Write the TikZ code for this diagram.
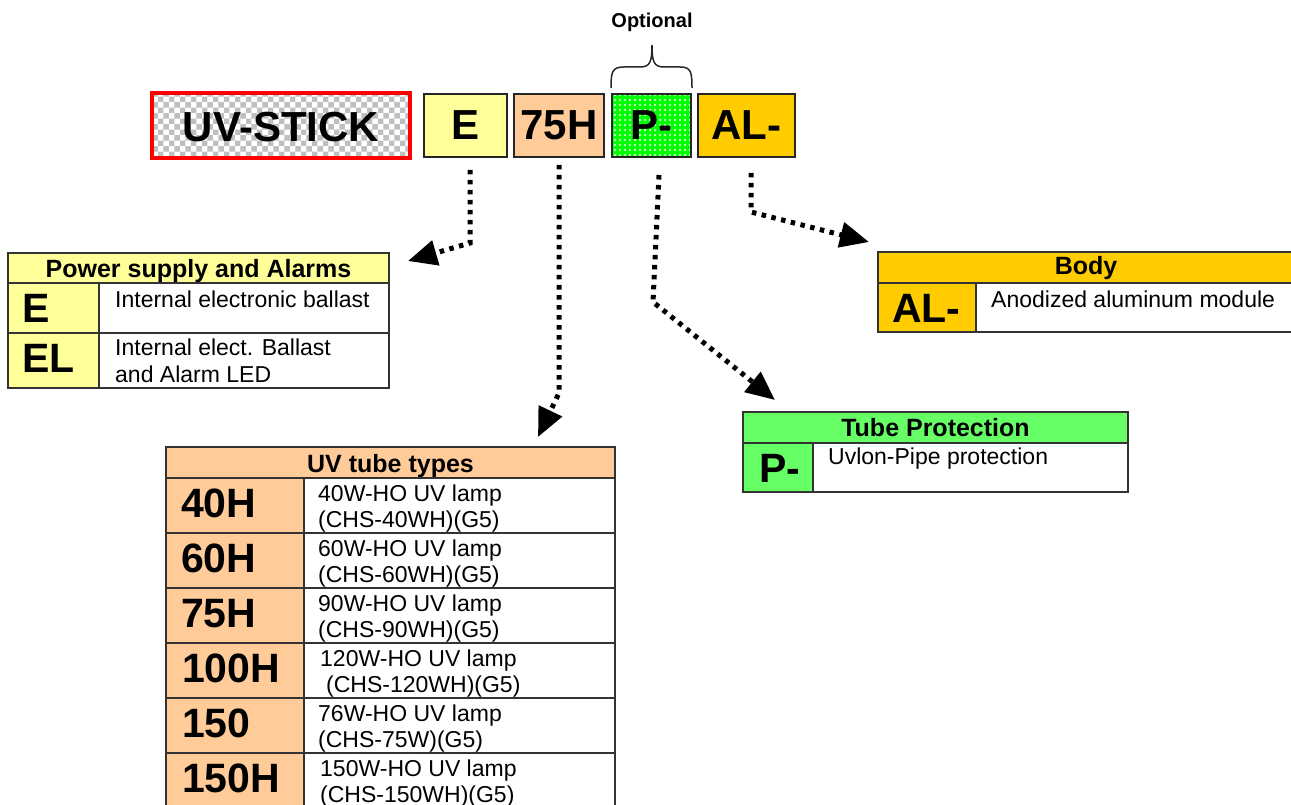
\documentclass[tikz,border=0pt]{standalone}
\usepackage{fontspec}
\setmainfont{Liberation Sans}
\usetikzlibrary{arrows.meta,patterns,patterns.meta}
\definecolor{lyellow}{HTML}{FFFF99}
\definecolor{peach}{HTML}{FFCC99}
\definecolor{gold}{HTML}{FFCC00}
\definecolor{lgreen}{HTML}{66FF66}
\definecolor{brgreen}{HTML}{00FF00}
\definecolor{lineg}{HTML}{333333}
\begin{document}
\begin{tikzpicture}[x=1pt,y=-1pt,
 cell/.style={draw=lineg, line width=1.3pt, rectangle, inner sep=0pt, outer sep=0pt, anchor=north west},
 topbox/.style={draw=black!85, line width=2pt, rectangle, inner sep=0pt, outer sep=0pt, anchor=north west, minimum height=63pt, font=\fontsize{42}{42}\selectfont\bfseries},
 keytxt/.style={anchor=base west, inner sep=0pt, font=\fontsize{41}{41}\selectfont\bfseries},
 desctxt/.style={anchor=base west, inner sep=0pt, font=\fontsize{23}{23}\selectfont},
 hdrtxt/.style={anchor=base, inner sep=0pt, font=\fontsize{25}{25}\selectfont\bfseries},
 arr/.style={line width=5pt, dash pattern=on 4.5pt off 5.5pt, -{Triangle[length=29pt,width=25pt]}}
]
\useasboundingbox (0,0) rectangle (1291,805);

% ---------- top code boxes ----------
\node[topbox, draw=red, line width=4pt, minimum width=258pt, minimum height=65pt,
      preaction={fill=white}, pattern=checkerboard, pattern color=black!25] (uv) at (152,93) {};
\node[inner sep=0pt, font=\fontsize{42}{42}\selectfont\bfseries] (uvt) at (281,127.5) {UV-STICK};
\node[topbox, fill=lyellow, minimum width=83pt] (tE) at (424,94) {E};
\node[topbox, fill=peach, minimum width=90pt] (t75) at (514,94) {75H};
\node[topbox, preaction={fill=brgreen}, pattern={Dots[distance=5pt, radius=1.1pt]}, pattern color=white, minimum width=79pt] (tP) at (612,94) {};
\draw[black!85, line width=2pt] (tP.north west) rectangle (tP.south east);
\node[inner sep=0pt, font=\fontsize{42}{42}\selectfont\bfseries] (tPt) at (651.5,125.5) {P-};
\node[topbox, fill=gold, minimum width=97pt] (tAL) at (698,94) {AL-};

\node[anchor=base, inner sep=0pt, font=\fontsize{20}{20}\selectfont\bfseries] (opt) at (652,28) {Optional};
\draw[line width=1.5pt, black!85] (611,88) .. controls (611,72) and (612,67) .. (624,67) -- (640,67)
      .. controls (650,67) and (652,62) .. (652,45)
      .. controls (652,62) and (654,67) .. (664,67) -- (680,67)
      .. controls (691,67) and (692,72) .. (692,88);

% ---------- Power supply table ----------
\node[cell, fill=lyellow, minimum width=381pt, minimum height=30pt] (psH) at (8,253) {};
\node[hdrtxt] (psHt) at (198.5,277) {Power supply and Alarms};
\node[cell, fill=lyellow, minimum width=91pt, minimum height=50pt] (psK1) at (8,283) {};
\node[cell, fill=lyellow, minimum width=91pt, minimum height=55pt] (psK2) at (8,333) {};
\node[cell, fill=white, minimum width=290pt, minimum height=50pt] (psD1) at (99,283) {};
\node[cell, fill=white, minimum width=290pt, minimum height=55pt] (psD2) at (99,333) {};
\node[keytxt] (psK1t) at (22,323) {E};
\node[keytxt] (psK2t) at (22,372) {EL};
\node[desctxt] (psD1t) at (115,307) {Internal electronic ballast};
\node[desctxt] (psD2a) at (115,355) {Internal elect. Ballast};
\node[desctxt] (psD2b) at (115,382) {and Alarm LED};

% ---------- Body table ----------
\node[cell, fill=gold, minimum width=416pt, minimum height=31pt] (bH) at (878,252) {};
\node[hdrtxt] (bHt) at (1086,275) {Body};
\node[cell, fill=gold, minimum width=98pt, minimum height=49pt] (bK) at (878,283) {};
\node[cell, fill=white, minimum width=318pt, minimum height=49pt] (bD) at (976,283) {};
\node[keytxt] (bKt) at (892,323) {AL-};
\node[desctxt] (bDt) at (991,307) {Anodized aluminum module};

% ---------- Tube protection table ----------
\node[cell, fill=lgreen, minimum width=385pt, minimum height=31pt] (tpH) at (743,412) {};
\node[hdrtxt] (tpHt) at (935.5,436) {Tube Protection};
\node[cell, fill=lgreen, minimum width=70pt, minimum height=49pt] (tpK) at (743,443) {};
\node[cell, fill=white, minimum width=315pt, minimum height=49pt] (tpD) at (813,443) {};
\node[keytxt] (tpKt) at (759,482) {P-};
\node[desctxt] (tpDt) at (828,464) {Uvlon-Pipe protection};

% ---------- UV tube types table ----------
\node[cell, fill=peach, minimum width=449pt, minimum height=31pt] (uvH) at (166,447) {};
\node[hdrtxt] (uvHt) at (390.5,472) {UV tube types};
\foreach \i/\k/\kx/\la/\lax/\lb/\lbx/\h in {
   0/40H/181/40W-HO UV lamp/318/(CHS-40WH)(G5)/318/55,
   1/60H/181/60W-HO UV lamp/318/(CHS-60WH)(G5)/318/55,
   2/75H/181/90W-HO UV lamp/318/(CHS-90WH)(G5)/318/55,
   3/100H/182/120W-HO UV lamp/320/(CHS-120WH)(G5)/326/55,
   4/150/182/76W-HO UV lamp/318/(CHS-75W)(G5)/318/55,
   5/150H/182/150W-HO UV lamp/320/(CHS-150WH)(G5)/320/70}{
  \pgfmathsetmacro{\y}{478+55*\i}
  \node[cell, fill=peach, minimum width=138pt, minimum height=\h pt] (uvK\i) at (166,\y) {};
  \node[cell, fill=white, minimum width=311pt, minimum height=\h pt] (uvD\i) at (304,\y) {};
  \node[keytxt] (uvKt\i) at (\kx,\y+39) {\k};
  \node[desctxt] (uvDa\i) at (\lax,\y+23) {\la};
  \node[desctxt] (uvDb\i) at (\lbx,\y+49) {\lb};
}

% ---------- connectors ----------
\coordinate (e1) at (470,170); \coordinate (e2) at (470,243); \coordinate (e3) at (408,261);
\coordinate (h1) at (559,165); \coordinate (h2) at (559,393); \coordinate (h3) at (538,437);
\coordinate (p1) at (659,175); \coordinate (p2) at (653,302); \coordinate (p3) at (775,400);
\coordinate (a1) at (751,173); \coordinate (a2) at (751,212); \coordinate (a3) at (869,242);
\draw[arr] (e1) -- (e2) -- (e3);
\draw[arr] (h1) -- (h2) -- (h3);
\draw[arr] (p1) -- (p2) -- (p3);
\draw[arr] (a1) -- (a2) -- (a3);
\end{tikzpicture}
\end{document}
